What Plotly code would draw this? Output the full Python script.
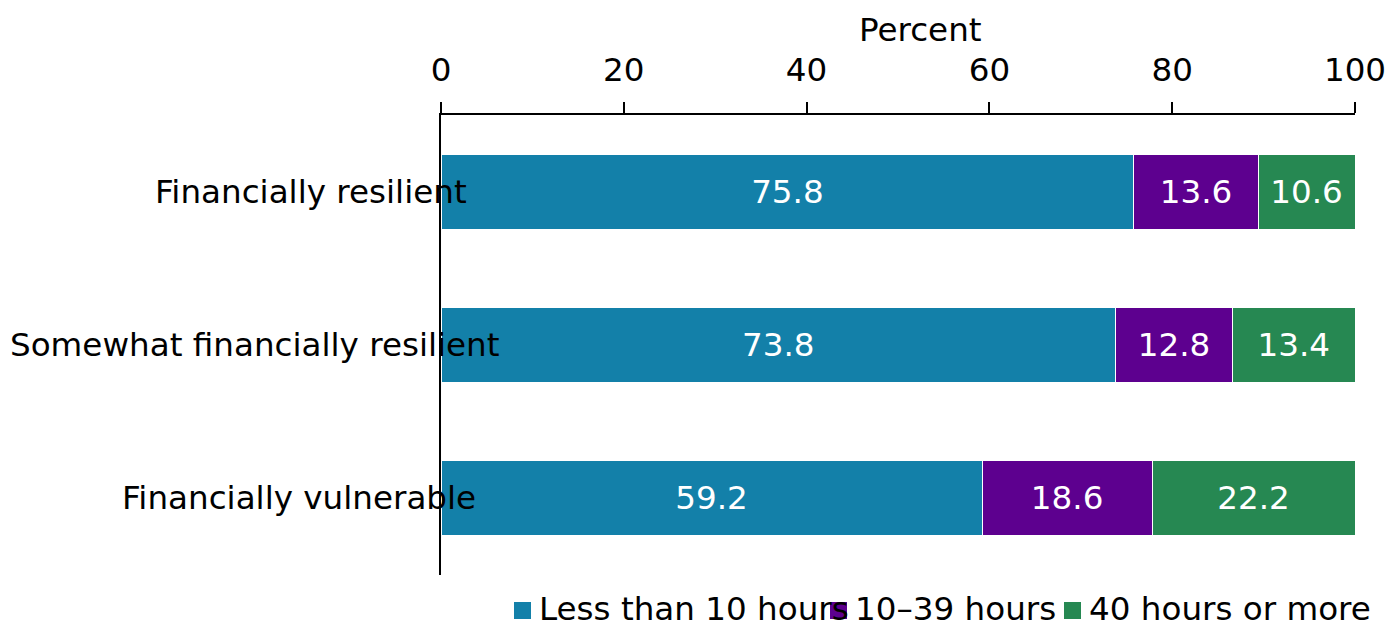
import plotly.graph_objects as go

# Data
categories = ["Financially resilient", "Somewhat financially resilient", "Financially vulnerable"]
series_names = ["Less than 10 hours", "10–39 hours", "40 hours or more"]
less_than_10 = [75.8, 73.8, 59.2]
hours_10_39 = [13.6, 12.8, 18.6]
hours_40_plus = [10.6, 13.4, 22.2]
tick_values = [0, 20, 40, 60, 80, 100]
tick_labels = ["0", "20", "40", "60", "80", "100"]
axis_title = "Percent"

colors = ["#1380A9", "#5D008F", "#268852"]
FONT = "DejaVu Sans"
FS = 32.6

W, H = 1394, 623
ML, MR, MT, MB = 441, 39, 115, 48

fig = go.Figure()
for name, vals, col in zip(series_names, [less_than_10, hours_10_39, hours_40_plus], colors):
    fig.add_trace(go.Bar(
        y=categories, x=vals, name=name, orientation="h",
        marker=dict(color=col, line=dict(color="white", width=1)),
        width=0.49,
        text=vals, texttemplate="%{x:.1f}", textposition="inside",
        insidetextanchor="middle", textangle=0, constraintext="none",
        textfont=dict(family=FONT, size=FS, color="white"),
        showlegend=False, hoverinfo="x+name",
    ))

annotations = []
# Category labels, drawn over the bars
label_left = [153, 8, 120]
for cat, left in zip(categories, label_left):
    annotations.append(dict(
        text=cat, xref="paper", x=0, xanchor="left", xshift=left - ML,
        yref="y", y=cat, yanchor="middle", showarrow=False,
        font=dict(family=FONT, size=FS, color="black"),
    ))

# Axis title
annotations.append(dict(
    text=axis_title, xref="paper", x=0, xanchor="center", xshift=920 - ML,
    yref="paper", y=1, yanchor="middle", yshift=MT - 30, showarrow=False,
    font=dict(family=FONT, size=FS, color="black"),
))

# Legend: swatches and labels
shapes = []
swatch_left = [514, 830, 1064]
text_left = [537, 853, 1087]
for name, col, sx, tx in zip(series_names, colors, swatch_left, text_left):
    shapes.append(dict(
        type="rect", xref="paper", xsizemode="pixel", xanchor=0,
        x0=sx - ML, x1=sx - ML + 17,
        yref="paper", ysizemode="pixel", yanchor=0,
        y0=-(619 - (H - MB)), y1=-(602 - (H - MB)),
        fillcolor=col, line=dict(width=0), layer="above",
    ))
    annotations.append(dict(
        text=name, xref="paper", x=0, xanchor="left", xshift=tx - ML,
        yref="paper", y=0, yanchor="middle", yshift=-(609 - (H - MB)),
        showarrow=False, font=dict(family=FONT, size=FS, color="black"),
    ))

fig.update_layout(
    barmode="stack",
    width=W, height=H,
    margin=dict(l=ML, r=MR, t=MT, b=MB, pad=0, autoexpand=False),
    paper_bgcolor="white", plot_bgcolor="white",
    font=dict(family=FONT, size=FS, color="black"),
    xaxis=dict(
        side="top", range=[0, 100], tickvals=tick_values, ticktext=tick_labels,
        ticks="outside", ticklen=11, tickwidth=1.5, tickcolor="black",
        ticklabelstandoff=8,
        showline=True, linecolor="black", linewidth=1.5,
        showgrid=False, zeroline=False, automargin=False,
        tickfont=dict(family=FONT, size=FS, color="black"),
        fixedrange=True,
    ),
    yaxis=dict(
        categoryorder="array", categoryarray=categories,
        range=[2.5, -0.5], showticklabels=False, ticks="",
        showline=True, linecolor="black", linewidth=1.5,
        showgrid=False, zeroline=False, automargin=False, fixedrange=True,
    ),
    annotations=annotations,
    shapes=shapes,
    showlegend=False,
)

fig.write_html("out.html")
